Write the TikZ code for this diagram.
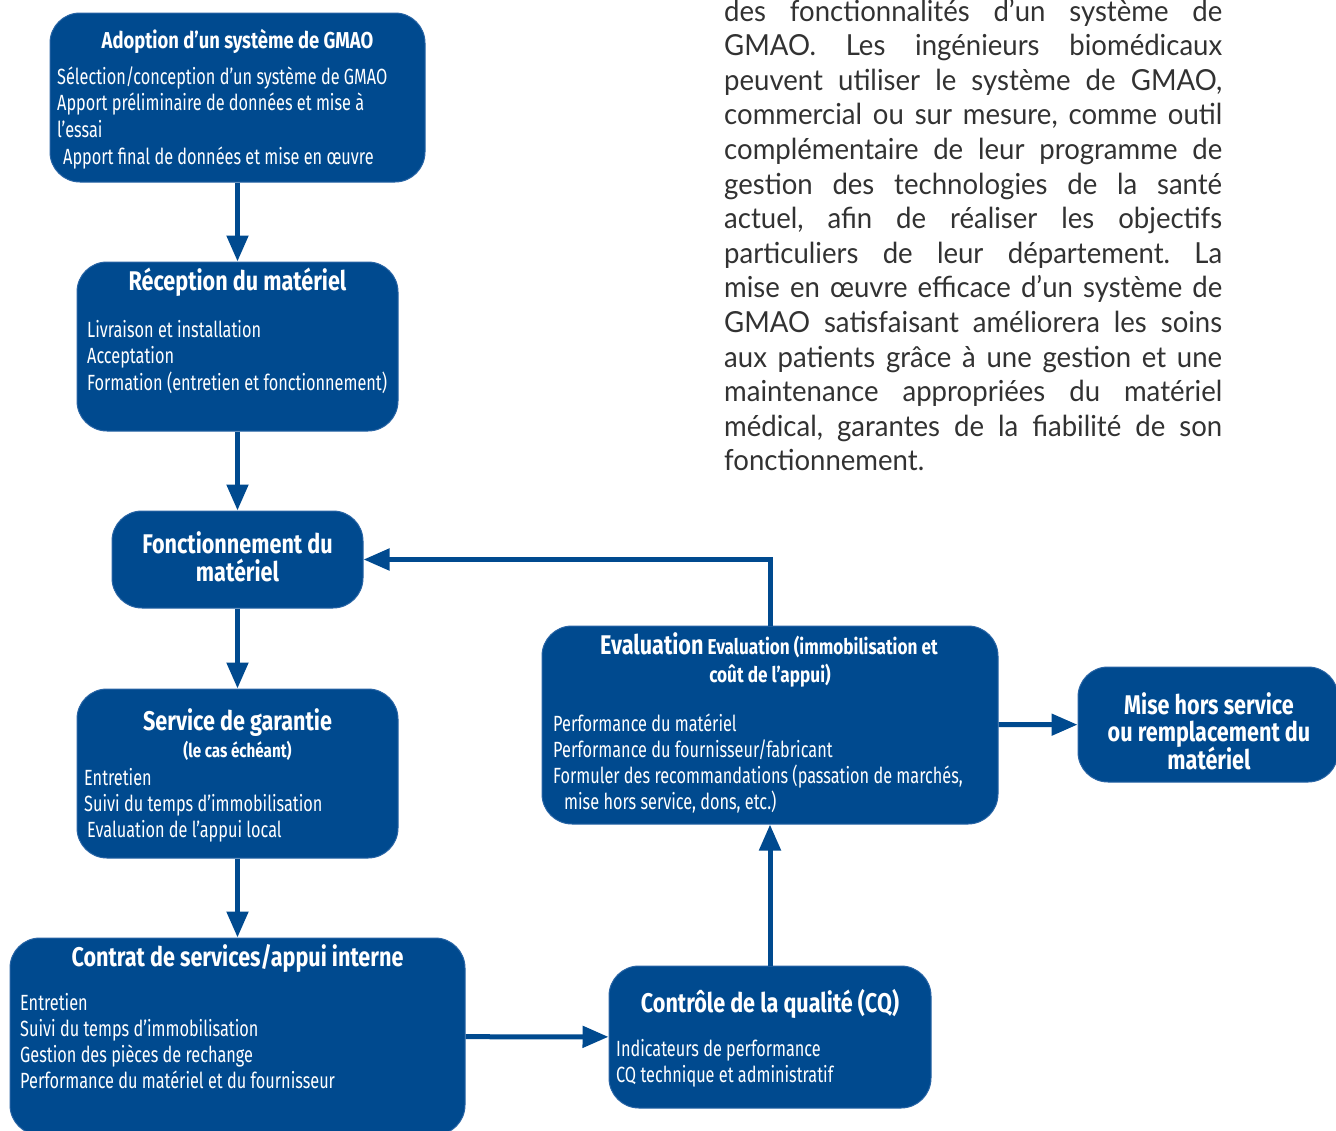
\documentclass[tikz,border=0pt]{standalone}
\usepackage{fontspec}
\usetikzlibrary{arrows.meta}
\newfontfamily\boxfont{Fira Sans}[FakeStretch=0.74]
\newfontfamily\headfont{Fira Sans}[FakeStretch=0.8]
\newfontfamily\bodyfont{Lato}[FakeStretch=0.95]
\definecolor{gmaoblue}{RGB}{0,74,143}
\definecolor{gmaoline}{RGB}{40,100,165}
\definecolor{bodygray}{RGB}{50,50,50}
\tikzset{
  stage/.style={draw=gmaoline,line width=1pt,fill=gmaoblue,rounded corners=30pt,inner sep=0pt},
  head/.style={text=white,font=\headfont\bfseries\fontsize{27}{28}\selectfont,inner sep=0pt,anchor=base},
  items/.style={text=white,font=\boxfont\fontsize{22}{26}\selectfont,inner sep=0pt,anchor=base west},
  flow/.style={gmaoblue,line width=5pt,-{Triangle[length=26pt,width=21pt]}}
}
\begin{document}
\begin{tikzpicture}[x=1pt,y=-1pt]
\clip (0,0) rectangle (1336,1130);
\fill[white] (0,0) rectangle (1336,1130);
% etapes
\node[stage,minimum width=375,minimum height=169] (adopt) at (237.5,97.5) {};
\node[stage,minimum width=321,minimum height=169] (recep) at (237.5,346.5) {};
\node[stage,minimum width=251,minimum height=97] (oper) at (237.5,559.5) {};
\node[stage,minimum width=321,minimum height=169] (warranty) at (237.5,773.5) {};
\node[stage,minimum width=455,minimum height=197] (contract) at (237.5,1036.5) {};
\node[stage,minimum width=322,minimum height=142] (qc) at (770,1037) {};
\node[stage,minimum width=456,minimum height=198] (eval) at (770,725) {};
\node[stage,minimum width=260,minimum height=115] (retire) at (1208,724.5) {};
% titres
\node[head,font=\headfont\bfseries\fontsize{23}{26}\selectfont] (adopthead) at (237.5,48) {Adoption d’un système de GMAO};
\node[head] (recephead) at (237.5,290) {Réception du matériel};
\node[head] (operhead1) at (237.5,553) {Fonctionnement du};
\node[head] (operhead2) at (237.5,581) {matériel};
\node[head] (warrantyhead) at (237.5,730) {Service de garantie};
\node[head,font=\headfont\bfseries\fontsize{19}{22}\selectfont] (warrantysub) at (237.5,757) {(le cas échéant)};
\node[head] (contracthead) at (237.5,966) {Contrat de services/appui interne};
\node[head] (qchead) at (770,1012) {Contrôle de la qualité (CQ)};
\node[head,font=\headfont\bfseries\fontsize{21.5}{28}\selectfont] (evalhead1) at (769,654) {{\fontsize{27}{28}\selectfont Evaluation} Evaluation (immobilisation et};
\node[head,font=\headfont\bfseries\fontsize{21.5}{28}\selectfont] (evalhead2) at (770,682) {coût de l’appui)};
\foreach \t [count=\i from 0] in {Mise hors service,ou remplacement du,matériel}
  \node[head] (retirehead\i) at (1209,714+27.5*\i) {\t};
% listes
\foreach \t [count=\i from 0] in {Sélection/conception d’un système de GMAO,Apport préliminaire de données et mise à,l’essai,\hspace{6pt}Apport final de données et mise en œuvre}
  \node[items] (adoptitem\i) at (57,84+26.7*\i) {\t};
\foreach \t [count=\i from 0] in {Livraison et installation,Acceptation,Formation (entretien et fonctionnement)}
  \node[items] (recepitem\i) at (87,337+26.5*\i) {\t};
\foreach \t [count=\i from 0] in {Entretien,Suivi du temps d’immobilisation,\hspace{3pt}Evaluation de l’appui local}
  \node[items] (warrantyitem\i) at (84,785+26*\i) {\t};
\foreach \t [count=\i from 0] in {Entretien,Suivi du temps d’immobilisation,Gestion des pièces de rechange,Performance du matériel et du fournisseur}
  \node[items] (contractitem\i) at (20,1010+26.3*\i) {\t};
\foreach \t [count=\i from 0] in {Indicateurs de performance,CQ technique et administratif}
  \node[items] (qcitem\i) at (616,1056+26*\i) {\t};
\foreach \t [count=\i from 0] in {Performance du matériel,Performance du fournisseur/fabricant,{Formuler des recommandations (passation de marchés,},{\hspace{11pt}mise hors service, dons, etc.)}}
  \node[items] (evalitem\i) at (553,731+26.3*\i) {\t};
% fleches
\draw[flow] (adopt) -- (recep);
\draw[flow] (recep) -- (oper);
\draw[flow] (oper) -- (warranty);
\draw[flow] (warranty) -- (contract);
\draw[flow] (contract) -- (qc);
\draw[flow] (qc) -- (eval);
\draw[flow] (eval.north) |- (oper.east);
\draw[flow] (eval) -- (retire);
% texte courant
\node[text width=498pt,inner sep=0pt,anchor=base west,text=bodygray,align=justify,font=\bodyfont\fontsize{29}{34.6}\selectfont\frenchspacing] (bodytext) at (724,21) {des fonctionnalités d’un système de\linebreak GMAO. Les ingénieurs biomédicaux\linebreak peuvent utiliser le système de GMAO,\linebreak commercial ou sur mesure, comme outil\linebreak complémentaire de leur programme de\linebreak gestion des technologies de la santé\linebreak actuel, afin de réaliser les objectifs\linebreak particuliers de leur département. La\linebreak mise en œuvre efficace d’un système de\linebreak GMAO satisfaisant améliorera les soins\linebreak aux patients grâce à une gestion et une\linebreak maintenance appropriées du matériel\linebreak médical, garantes de la fiabilité de son\linebreak fonctionnement.};
\end{tikzpicture}
\end{document}
